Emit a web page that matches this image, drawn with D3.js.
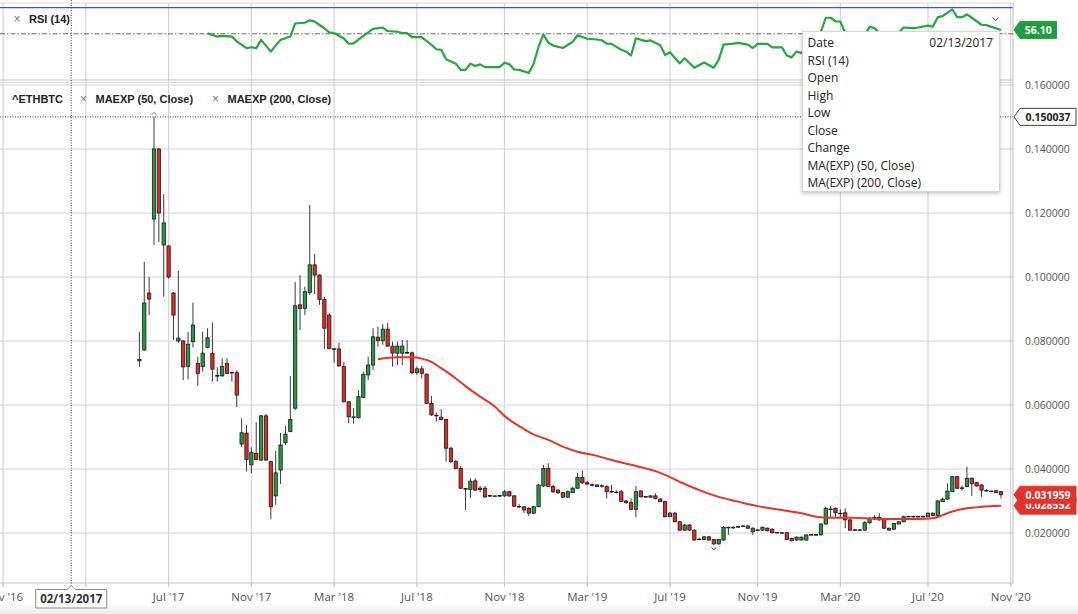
<!DOCTYPE html>
<html>
<head>
<meta charset="utf-8">
<title>ETHBTC weekly</title>
<script src="https://cdn.jsdelivr.net/npm/d3@7"></script>
<style>
  body { margin: 0; background: #fff; }
  svg { display: block; }
</style>
</head>
<body>
<div id="chart"></div>
<script>
// weekly bars, the first one is the week of Mon 22 May 2017
const firstBar = "2017-05-22";

const opens = [
  0.0738, 0.0772, 0.0950, 0.1181, 0.1400, 0.1100, 0.1097, 0.0950, 0.0800, 0.0800,
  0.0721, 0.0798, 0.0730, 0.0720, 0.0780, 0.0762, 0.0692, 0.0691, 0.0730, 0.0702,
  0.0701, 0.0478, 0.0512, 0.0413, 0.0449, 0.0428, 0.0566, 0.0423, 0.0316, 0.0397,
  0.0482, 0.0517, 0.0590, 0.0913, 0.0902, 0.0952, 0.1038, 0.1006, 0.0930, 0.0881,
  0.0776, 0.0775, 0.0720, 0.0610, 0.0561, 0.0560, 0.0624, 0.0694, 0.0725, 0.0812,
  0.0801, 0.0837, 0.0784, 0.0762, 0.0762, 0.0764, 0.0763, 0.0701, 0.0713, 0.0696,
  0.0605, 0.0568, 0.0562, 0.0555, 0.0465, 0.0423, 0.0402, 0.0339, 0.0336, 0.0363,
  0.0336, 0.0340, 0.0317, 0.0316, 0.0315, 0.0316, 0.0329, 0.0316, 0.0283, 0.0282,
  0.0277, 0.0262, 0.0282, 0.0347, 0.0402, 0.0345, 0.0334, 0.0326, 0.0312, 0.0326,
  0.0340, 0.0374, 0.0357, 0.0351, 0.0350, 0.0348, 0.0345, 0.0330, 0.0328, 0.0329,
  0.0300, 0.0295, 0.0274, 0.0331, 0.0314, 0.0316, 0.0316, 0.0306, 0.0298, 0.0251,
  0.0262, 0.0235, 0.0209, 0.0225, 0.0209, 0.0181, 0.0180, 0.0188, 0.0180, 0.0166,
  0.0178, 0.0218, 0.0216, 0.0219, 0.0221, 0.0222, 0.0204, 0.0210, 0.0209, 0.0215,
  0.0212, 0.0202, 0.0201, 0.0201, 0.0183, 0.0178, 0.0178, 0.0178, 0.0194, 0.0195,
  0.0194, 0.0228, 0.0275, 0.0277, 0.0262, 0.0263, 0.0241, 0.0210, 0.0209, 0.0209,
  0.0232, 0.0249, 0.0249, 0.0243, 0.0215, 0.0212, 0.0228, 0.0235, 0.0251, 0.0252,
  0.0251, 0.0252, 0.0251, 0.0262, 0.0255, 0.0298, 0.0306, 0.0329, 0.0376, 0.0341,
  0.0345, 0.0371, 0.0357, 0.0350, 0.0333, 0.0331, 0.0332, 0.0329
];
const highs = [
  0.0828, 0.1047, 0.1000, 0.150037, 0.1403, 0.1259, 0.1100, 0.0953, 0.1019, 0.0803,
  0.0829, 0.0920, 0.0751, 0.0829, 0.0840, 0.0858, 0.0718, 0.0746, 0.0746, 0.0704,
  0.0709, 0.0558, 0.0538, 0.0468, 0.0546, 0.0569, 0.0572, 0.0426, 0.0457, 0.0513,
  0.0534, 0.0691, 0.0985, 0.1006, 0.0970, 0.1225, 0.1072, 0.1008, 0.0938, 0.0887,
  0.0777, 0.0795, 0.0735, 0.0612, 0.0590, 0.0647, 0.0704, 0.0751, 0.0840, 0.0845,
  0.0853, 0.0857, 0.0798, 0.0798, 0.0803, 0.0803, 0.0767, 0.0720, 0.0722, 0.0699,
  0.0628, 0.0576, 0.0587, 0.0557, 0.0470, 0.0428, 0.0409, 0.0340, 0.0371, 0.0371,
  0.0347, 0.0347, 0.0318, 0.0318, 0.0319, 0.0334, 0.0332, 0.0319, 0.0291, 0.0284,
  0.0281, 0.0284, 0.0353, 0.0413, 0.0418, 0.0350, 0.0337, 0.0328, 0.0334, 0.0344,
  0.0387, 0.0395, 0.0363, 0.0355, 0.0353, 0.0352, 0.0350, 0.0350, 0.0333, 0.0334,
  0.0303, 0.0308, 0.0347, 0.0334, 0.0316, 0.0318, 0.0324, 0.0309, 0.0301, 0.0266,
  0.0266, 0.0238, 0.0228, 0.0228, 0.0211, 0.0184, 0.0191, 0.0191, 0.0181, 0.0181,
  0.0222, 0.0220, 0.0221, 0.0223, 0.0225, 0.0224, 0.0218, 0.0212, 0.0220, 0.0217,
  0.0214, 0.0203, 0.0203, 0.0202, 0.0185, 0.0189, 0.0189, 0.0196, 0.0197, 0.0197,
  0.0230, 0.0282, 0.0284, 0.0280, 0.0274, 0.0277, 0.0244, 0.0212, 0.0212, 0.0237,
  0.0250, 0.0256, 0.0262, 0.0246, 0.0216, 0.0232, 0.0237, 0.0254, 0.0254, 0.0254,
  0.0254, 0.0254, 0.0264, 0.0264, 0.0302, 0.0311, 0.0355, 0.0378, 0.0378, 0.0349,
  0.0407, 0.0374, 0.0360, 0.0353, 0.0337, 0.0333, 0.0334, 0.0331
];
const lows = [
  0.0719, 0.0769, 0.0881, 0.1100, 0.1109, 0.0938, 0.0995, 0.0803, 0.0794, 0.0678,
  0.0680, 0.0780, 0.0660, 0.0704, 0.0777, 0.0673, 0.0673, 0.0688, 0.0697, 0.0673,
  0.0593, 0.0470, 0.0392, 0.0387, 0.0428, 0.0426, 0.0426, 0.0243, 0.0288, 0.0353,
  0.0475, 0.0515, 0.0584, 0.0834, 0.0881, 0.0944, 0.0947, 0.0913, 0.0774, 0.0774,
  0.0732, 0.0720, 0.0608, 0.0543, 0.0541, 0.0558, 0.0621, 0.0678, 0.0709, 0.0782,
  0.0788, 0.0782, 0.0720, 0.0725, 0.0725, 0.0760, 0.0697, 0.0694, 0.0683, 0.0603,
  0.0566, 0.0548, 0.0553, 0.0423, 0.0418, 0.0399, 0.0337, 0.0272, 0.0309, 0.0331,
  0.0328, 0.0309, 0.0313, 0.0314, 0.0314, 0.0313, 0.0313, 0.0281, 0.0278, 0.0262,
  0.0253, 0.0259, 0.0281, 0.0344, 0.0344, 0.0325, 0.0322, 0.0309, 0.0309, 0.0325,
  0.0338, 0.0353, 0.0350, 0.0345, 0.0344, 0.0342, 0.0308, 0.0326, 0.0324, 0.0297,
  0.0291, 0.0272, 0.0249, 0.0311, 0.0310, 0.0310, 0.0305, 0.0297, 0.0249, 0.0250,
  0.0234, 0.0207, 0.0207, 0.0206, 0.0176, 0.0178, 0.0178, 0.0176, 0.0163, 0.0164,
  0.0176, 0.0194, 0.0213, 0.0216, 0.0219, 0.0213, 0.0194, 0.0206, 0.0207, 0.0205,
  0.0199, 0.0199, 0.0199, 0.0178, 0.0174, 0.0176, 0.0177, 0.0176, 0.0192, 0.0192,
  0.0193, 0.0227, 0.0249, 0.0251, 0.0249, 0.0215, 0.0207, 0.0207, 0.0207, 0.0206,
  0.0228, 0.0241, 0.0238, 0.0213, 0.0208, 0.0209, 0.0227, 0.0234, 0.0249, 0.0249,
  0.0249, 0.0249, 0.0250, 0.0254, 0.0253, 0.0297, 0.0303, 0.0328, 0.0337, 0.0333,
  0.0344, 0.0316, 0.0344, 0.0313, 0.0330, 0.0328, 0.0324, 0.0308
];
const closes = [
  0.0742, 0.0919, 0.0931, 0.1400, 0.1200, 0.1169, 0.1000, 0.0881, 0.0809, 0.0719,
  0.0790, 0.0850, 0.0699, 0.0762, 0.0810, 0.0712, 0.0690, 0.0720, 0.0699, 0.0700,
  0.0631, 0.0513, 0.0430, 0.0451, 0.0430, 0.0566, 0.0428, 0.0282, 0.0388, 0.0475,
  0.0509, 0.0555, 0.0910, 0.0902, 0.0954, 0.1038, 0.1006, 0.0930, 0.0840, 0.0777,
  0.0774, 0.0722, 0.0610, 0.0563, 0.0563, 0.0626, 0.0696, 0.0725, 0.0813, 0.0801,
  0.0837, 0.0784, 0.0762, 0.0784, 0.0784, 0.0762, 0.0701, 0.0713, 0.0699, 0.0605,
  0.0569, 0.0566, 0.0555, 0.0465, 0.0423, 0.0402, 0.0340, 0.0337, 0.0362, 0.0334,
  0.0340, 0.0313, 0.0315, 0.0316, 0.0317, 0.0329, 0.0316, 0.0284, 0.0281, 0.0272,
  0.0262, 0.0282, 0.0350, 0.0402, 0.0345, 0.0329, 0.0326, 0.0312, 0.0329, 0.0340,
  0.0374, 0.0357, 0.0353, 0.0349, 0.0345, 0.0346, 0.0329, 0.0328, 0.0327, 0.0298,
  0.0295, 0.0274, 0.0329, 0.0313, 0.0313, 0.0312, 0.0308, 0.0298, 0.0251, 0.0262,
  0.0235, 0.0209, 0.0225, 0.0209, 0.0178, 0.0180, 0.0188, 0.0178, 0.0166, 0.0180,
  0.0218, 0.0216, 0.0218, 0.0220, 0.0222, 0.0215, 0.0215, 0.0209, 0.0218, 0.0207,
  0.0201, 0.0201, 0.0201, 0.0180, 0.0176, 0.0187, 0.0187, 0.0194, 0.0195, 0.0194,
  0.0228, 0.0277, 0.0274, 0.0263, 0.0262, 0.0241, 0.0209, 0.0209, 0.0210, 0.0232,
  0.0246, 0.0249, 0.0241, 0.0215, 0.0209, 0.0230, 0.0235, 0.0251, 0.0252, 0.0251,
  0.0252, 0.0251, 0.0262, 0.0255, 0.0300, 0.0306, 0.0331, 0.0376, 0.0340, 0.0340,
  0.0371, 0.0355, 0.0347, 0.0334, 0.0332, 0.0330, 0.0326, 0.031959
];

// RSI(14), read at the turning points of the line (bar index -> value)
const rsiBars = [14, 16, 17, 19, 20, 22, 23, 24, 25, 27, 28, 29, 31, 32, 34, 35, 36, 38, 39, 40,
  42, 43, 44, 46, 48, 50, 51, 53, 54, 55, 56, 58, 60, 61, 62, 63, 65, 66, 67, 68,
  69, 70, 71, 74, 75, 76, 77, 78, 80, 81, 82, 83, 84, 85, 87, 89, 90, 92, 94, 95,
  96, 97, 99, 100, 101, 102, 104, 105, 107, 108, 109, 111, 112, 114, 116, 118, 119, 120, 122, 123,
  125, 126, 127, 129, 130, 132, 133, 134, 135, 136, 137, 138, 139, 140, 141, 142, 143, 144, 145, 146,
  147, 148, 149, 150, 151, 152, 153, 154, 155, 156, 157, 159, 160, 162, 163, 164, 165, 167, 168, 169,
  170, 171, 173, 174, 177];
const rsiValues = [54.2, 52.5, 52.9, 52.5, 49.9, 46.2, 46.7, 46.2, 50.7, 44.3, 47.6, 50.7, 52.5, 59.6, 60.0, 61.3, 60.6, 57.0, 54.8, 54.4,
  51.4, 48.6, 48.8, 52.9, 56.7, 57.4, 55.5, 55.1, 54.4, 54.4, 52.2, 52.2, 48.0, 45.6, 45.3, 40.2, 37.8, 34.4, 34.4, 37.8,
  36.5, 37.4, 35.9, 35.9, 38.3, 37.4, 34.6, 34.4, 32.7, 37.8, 47.0, 53.7, 49.1, 47.6, 46.3, 49.6, 53.2, 51.3, 50.9, 50.5,
  48.7, 48.5, 45.3, 44.3, 42.2, 51.5, 50.0, 50.4, 47.8, 42.5, 44.0, 37.9, 40.7, 35.6, 38.4, 35.6, 39.8, 48.1, 48.7, 49.1,
  48.1, 46.3, 48.5, 48.5, 46.6, 46.6, 42.2, 41.2, 44.4, 43.5, 46.0, 47.0, 48.0, 55.0, 62.7, 62.7, 60.8, 60.6, 54.6, 47.0,
  47.0, 48.0, 53.0, 57.8, 57.1, 54.6, 50.0, 49.0, 52.0, 54.6, 57.4, 57.1, 57.4, 58.4, 57.8, 63.0, 63.6, 67.3, 63.0, 63.0,
  64.5, 62.7, 58.9, 58.7, 56.10];
const rsiRefLevel = 54;

// MA(EXP) (50, Close)
const emaBars = [49, 53, 56, 58, 60, 62, 65, 67, 70, 73, 75, 78, 81, 84, 87, 90, 94, 97, 101, 107,
  111, 115, 119, 123, 127, 132, 136, 139, 142, 146, 149, 153, 156, 160, 163, 165, 167, 170, 173, 177];
const emaValues = [0.0743, 0.0749, 0.0749, 0.0745, 0.0735, 0.0715, 0.0683, 0.0659, 0.0626, 0.0595,
  0.0566, 0.0534, 0.0508, 0.0491, 0.0470, 0.0454, 0.0441, 0.0428, 0.0413, 0.0388,
  0.0360, 0.0334, 0.0313, 0.0298, 0.0284, 0.0272, 0.0262, 0.0251, 0.0248, 0.0248,
  0.0246, 0.0244, 0.0244, 0.0244, 0.0246, 0.0256, 0.0267, 0.0277, 0.0282, 0.028552];

const priceTicks = [0.02, 0.04, 0.06, 0.08, 0.10, 0.12, 0.14, 0.16];
const monthTickDates = ["2016-11-07", "2017-03-06", "2017-07-03", "2017-10-30", "2018-02-26", "2018-06-25",
  "2018-10-29", "2019-02-25", "2019-06-24", "2019-10-28", "2020-02-24", "2020-06-29", "2020-10-26"];
const monthTickLabels = ["Nov '16", "Mar '17", "Jul '17", "Nov '17", "Mar '18", "Jul '18",
  "Nov '18", "Mar '19", "Jul '19", "Nov '19", "Mar '20", "Jul '20", "Nov '20"];

const crosshairDate = "2017-02-13";
const crosshairPrice = 0.150037;
const tooltipRows = ["RSI (14)", "Open", "High", "Low", "Close", "Change", "MA(EXP) (50, Close)", "MA(EXP) (200, Close)"];

const width = 1078, height = 614;
const plotRight = 1013;
const rsiTop = 3, rsiBottom = 80, mainTop = 83, mainBottom = 583;
const green = "#1f9e3e", red = "#e4291f", gridColor = "#d4d4d4";
const sans = "'Open Sans', 'Noto Sans', sans-serif";
const arial = "'Liberation Sans', Arial, sans-serif";

const parse = d3.timeParse("%Y-%m-%d");
const start = parse(firstBar);
const bars = opens.map((o, i) => ({
  date: d3.timeWeek.offset(start, i), open: o, high: highs[i], low: lows[i], close: closes[i]
}));
const n = bars.length;

const x = d3.scaleTime().domain([bars[0].date, bars[n - 1].date]).range([139.4, 1001]);
const y = d3.scaleLinear().domain([0.02, 0.16]).range([533, 85]);
const yRsi = d3.scaleLinear().domain([30, 68]).range([78, 8]);

const svg = d3.select("#chart").append("svg")
  .attr("width", width).attr("height", height)
  .style("font-family", sans);

const defs = svg.append("defs");
defs.append("filter").attr("id", "shadow").attr("x", "-10%").attr("y", "-10%").attr("width", "130%").attr("height", "130%")
  .append("feDropShadow").attr("dx", 0).attr("dy", 1.5).attr("stdDeviation", 2).attr("flood-opacity", 0.25);
const fade = defs.append("linearGradient").attr("id", "fade").attr("x1", 0).attr("y1", 0).attr("x2", 0).attr("y2", 1);
fade.append("stop").attr("offset", 0).attr("stop-color", "#fff");
fade.append("stop").attr("offset", 1).attr("stop-color", "#ececec");
defs.append("clipPath").attr("id", "rsiClip").append("rect")
  .attr("x", 0).attr("y", rsiTop).attr("width", plotRight).attr("height", rsiBottom - rsiTop);

svg.append("rect").attr("width", width).attr("height", height).attr("fill", "#fff");
svg.append("rect").attr("x", 0).attr("y", 603).attr("width", width).attr("height", height - 603).attr("fill", "url(#fade)");

// grid
const tickX = monthTickDates.map(d => x(parse(d)));
svg.append("g").selectAll("line").data(tickX).enter().append("line")
  .attr("x1", d => d).attr("x2", d => d)
  .attr("y1", rsiTop).attr("y2", mainBottom + 4)
  .attr("stroke", gridColor).attr("stroke-width", 1.2);

svg.append("g").selectAll("line").data(priceTicks).enter().append("line")
  .attr("x1", 0).attr("x2", plotRight)
  .attr("y1", d => y(d)).attr("y2", d => y(d))
  .attr("stroke", gridColor).attr("stroke-width", 1.2);

// panel frames
svg.append("line").attr("x1", 0).attr("x2", plotRight).attr("y1", rsiTop).attr("y2", rsiTop).attr("stroke", "#d8d8d8");
svg.append("line").attr("x1", 0).attr("x2", plotRight).attr("y1", yRsi.range()[1] - 0.4).attr("y2", yRsi.range()[1] - 0.4)
  .attr("stroke", "#3d4fdc").attr("stroke-width", 1.2);
svg.append("line").attr("x1", 0).attr("x2", plotRight).attr("y1", rsiBottom).attr("y2", rsiBottom).attr("stroke", "#c8c8c8").attr("stroke-width", 1.2);
svg.append("line").attr("x1", 0).attr("x2", plotRight).attr("y1", mainTop - 0.5).attr("y2", mainTop - 0.5).attr("stroke", "#dcdcdc");
svg.append("line").attr("x1", plotRight).attr("x2", plotRight).attr("y1", rsiTop).attr("y2", mainBottom).attr("stroke", "#c8c8c8").attr("stroke-width", 1.2);
svg.append("line").attr("x1", 0).attr("x2", plotRight).attr("y1", mainBottom).attr("y2", mainBottom).attr("stroke", "#c8c8c8").attr("stroke-width", 1.2);

// RSI panel
svg.append("line").attr("x1", 0).attr("x2", plotRight)
  .attr("y1", yRsi(rsiRefLevel)).attr("y2", yRsi(rsiRefLevel))
  .attr("stroke", "#6b6b6b").attr("stroke-width", 1).attr("stroke-dasharray", "5,2,1.5,2");

const rsiPts = rsiBars.map((b, i) => [x(bars[b].date), yRsi(rsiValues[i])]);
svg.append("path").attr("clip-path", "url(#rsiClip)")
  .attr("d", d3.line()(rsiPts))
  .attr("fill", "none").attr("stroke", "#22a93c").attr("stroke-width", 2.2).attr("stroke-linejoin", "round");

// candles
const bodyW = 3.3;
const candles = svg.append("g");
candles.selectAll("line").data(bars).enter().append("line")
  .attr("x1", d => x(d.date)).attr("x2", d => x(d.date))
  .attr("y1", d => y(d.high)).attr("y2", d => y(d.low))
  .attr("stroke", "#3a3a3a").attr("stroke-width", 1);
candles.selectAll("rect").data(bars).enter().append("rect")
  .attr("x", d => x(d.date) - bodyW / 2)
  .attr("y", d => y(Math.max(d.open, d.close)))
  .attr("width", bodyW)
  .attr("height", d => Math.max(0.6, Math.abs(y(d.open) - y(d.close))))
  .attr("fill", d => d.close >= d.open ? green : red)
  .attr("stroke", "#1b1b1b").attr("stroke-width", 0.8);

// EMA 50
const emaPts = emaBars.map((b, i) => [x(bars[b].date), y(emaValues[i])]);
svg.append("path")
  .attr("d", d3.line().curve(d3.curveMonotoneX)(emaPts))
  .attr("fill", "none").attr("stroke", "#e8332b").attr("stroke-width", 2);

// highest high / lowest low markers
const hi = bars[d3.maxIndex(bars, d => d.high)];
const lo = bars[d3.minIndex(bars, d => d.low)];
svg.append("path")
  .attr("d", `M${x(hi.date) - 2.5},${y(hi.high) - 2} l2.5,-2.5 l2.5,2.5`)
  .attr("fill", "none").attr("stroke", green).attr("stroke-width", 1);
svg.append("path")
  .attr("d", `M${x(lo.date) - 2.5},${y(lo.low) + 2.5} l2.5,2.5 l2.5,-2.5`)
  .attr("fill", "none").attr("stroke", red).attr("stroke-width", 1);

// crosshair
const cx = x(parse(crosshairDate));
svg.append("line").attr("x1", cx).attr("x2", cx).attr("y1", 0).attr("y2", 588)
  .attr("stroke", "#444").attr("stroke-width", 1).attr("stroke-dasharray", "1,1.5");
svg.append("line").attr("x1", 0).attr("x2", plotRight).attr("y1", y(crosshairPrice)).attr("y2", y(crosshairPrice))
  .attr("stroke", "#444").attr("stroke-width", 1).attr("stroke-dasharray", "1,1.5");

// legends
const legend = svg.append("g").style("font-family", arial).style("font-size", "11px").style("font-weight", "bold").attr("fill", "#222");
legend.append("text").attr("x", 12).attr("y", 102.5).text("^ETHBTC");
legend.append("text").attr("x", 80).attr("y", 102.5).attr("fill", "#777").style("font-weight", "normal").style("font-size", "12px").text("×");
legend.append("text").attr("x", 95.5).attr("y", 102.5).text("MAEXP (50, Close)");
legend.append("text").attr("x", 212).attr("y", 102.5).attr("fill", "#777").style("font-weight", "normal").style("font-size", "12px").text("×");
legend.append("text").attr("x", 227.5).attr("y", 102.5).text("MAEXP (200, Close)");
legend.append("text").attr("x", 13.5).attr("y", 23).attr("fill", "#777").style("font-weight", "normal").style("font-size", "12px").text("×");
legend.append("text").attr("x", 29).attr("y", 23).text("RSI (14)");

// small menu chevron in the RSI panel
svg.append("path").attr("d", "M992.5,17.5 l3,3 l3,-3").attr("fill", "none").attr("stroke", "#555").attr("stroke-width", 1);

// right price axis
svg.append("g").selectAll("text").data(priceTicks).enter().append("text")
  .attr("x", 1025).attr("y", d => y(d) + 3.6)
  .attr("fill", "#555").style("font-size", "10.5px")
  .text(d => d3.format(".6f")(d));

function priceTag(yc, label, fill, stroke, color, right) {
  const g = svg.append("g");
  g.append("path")
    .attr("d", `M${plotRight + 1},${yc} L${plotRight + 7},${yc - 8.5} L${right},${yc - 8.5} L${right},${yc + 8.5} L${plotRight + 7},${yc + 8.5} Z`)
    .attr("fill", fill).attr("stroke", stroke).attr("stroke-width", 1);
  g.append("text").attr("x", (plotRight + 7 + right) / 2).attr("y", yc + 3.8)
    .attr("text-anchor", "middle").attr("fill", color)
    .style("font-size", "10.5px").style("font-weight", "bold").text(label);
}
const lastRsi = rsiValues[rsiValues.length - 1];
priceTag(yRsi(lastRsi), lastRsi.toFixed(2), "#1f9e3e", "#1f9e3e", "#fff", 1056.5);
priceTag(y(crosshairPrice), d3.format(".6f")(crosshairPrice), "#fff", "#444", "#222", 1076);
priceTag(y(emaValues[emaValues.length - 1]), d3.format(".6f")(emaValues[emaValues.length - 1]), "#e4322a", "#e4322a", "#fff", 1076);
priceTag(y(closes[n - 1]), d3.format(".6f")(closes[n - 1]), "#e4322a", "#e4322a", "#fff", 1076);

// x axis (the label sitting under the crosshair date box is hidden by it)
const cx0 = cx;
svg.append("g").selectAll("line").data(tickX).enter().append("line")
  .attr("x1", d => d).attr("x2", d => d).attr("y1", mainBottom).attr("y2", mainBottom + 4)
  .attr("stroke", "#c8c8c8");
svg.append("g").selectAll("text")
  .data(monthTickLabels.map((t, i) => ({ t, px: tickX[i] })).filter(d => Math.abs(d.px - cx0) > 40))
  .enter().append("text")
  .attr("x", d => d.px).attr("y", 601)
  .attr("text-anchor", "middle").attr("fill", "#555").style("font-size", "11.5px")
  .text(d => d.t);

// date box under the crosshair
const dateBox = svg.append("g");
dateBox.append("path")
  .attr("d", `M${cx - 35.5},589.5 L${cx - 4},589.5 L${cx},585.5 L${cx + 4},589.5 L${cx + 35.5},589.5 L${cx + 35.5},608 L${cx - 35.5},608 Z`)
  .attr("fill", "#fff").attr("stroke", "#8a8a8a").attr("stroke-width", 1);
dateBox.append("text").attr("x", cx).attr("y", 602.5).attr("text-anchor", "middle")
  .attr("fill", "#333").style("font-size", "11.5px").style("font-weight", "bold")
  .text(d3.timeFormat("%m/%d/%Y")(parse(crosshairDate)));

// tooltip
const tip = svg.append("g");
tip.append("rect").attr("x", 802.5).attr("y", 31.5).attr("width", 197).attr("height", 160)
  .attr("fill", "#fff").attr("stroke", "#d0d0d0").attr("stroke-width", 0.8).attr("filter", "url(#shadow)");
tip.append("text").attr("x", 807.5).attr("y", 47.4).attr("fill", "#222").style("font-size", "12px").text("Date");
tip.append("text").attr("x", 993).attr("y", 47.4).attr("text-anchor", "end").attr("fill", "#222").style("font-size", "12px")
  .text(d3.timeFormat("%m/%d/%Y")(parse(crosshairDate)));
tip.selectAll(".row").data(tooltipRows).enter().append("text").attr("class", "row")
  .attr("x", 807.5).attr("y", (d, i) => 47.4 + 17.5 * (i + 1))
  .attr("fill", "#222").style("font-size", "12px").text(d => d);
</script>
</body>
</html>
